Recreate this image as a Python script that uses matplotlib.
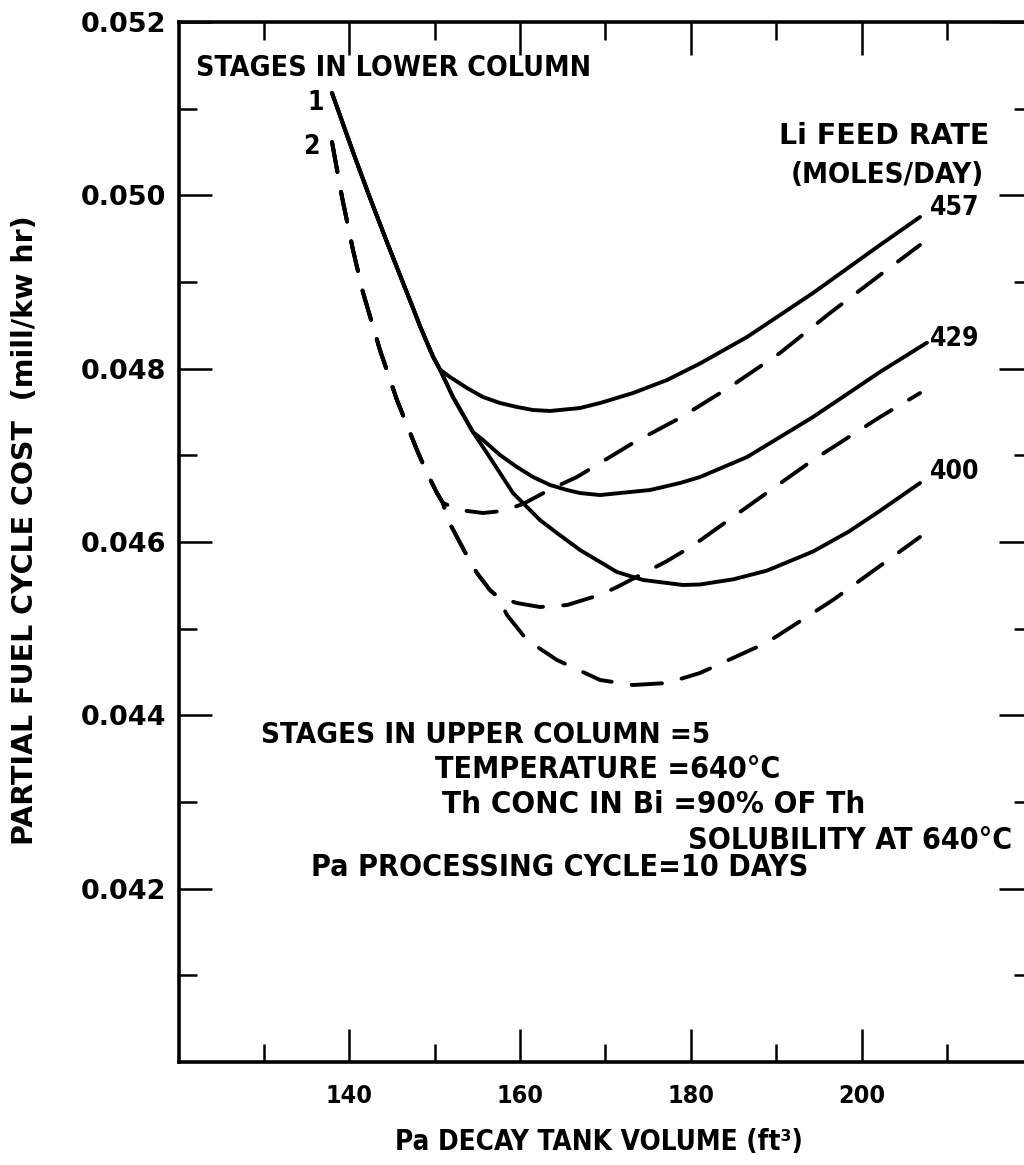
import numpy as np
import matplotlib
matplotlib.use("Agg")
import matplotlib.pyplot as plt

# Pa decay tank volume (ft^3) vs partial fuel cycle cost (mill/kwhr)
# one stage in lower column (solid), Li feed rate 457 / 429 / 400 moles/day
x_top1 = [137.97, 140.43, 142.42, 144.41, 146.29, 147.46, 148.28, 149.80, 150.62]
y_top1 = [0.051181, 0.050500, 0.049970, 0.049460, 0.048990, 0.048700, 0.048490,
          0.048140, 0.047990]

x_s457 = x_top1 + [151.79, 153.78, 155.66, 157.65, 159.64, 161.52, 163.51, 167.02,
                   169.37, 173.23, 177.21, 181.08, 186.58, 194.31, 202.16, 206.85]
y_s457 = y_top1 + [0.047904, 0.047777, 0.047673, 0.047604, 0.047558, 0.047523,
                   0.047512, 0.047546, 0.047604, 0.047719, 0.047869, 0.048060,
                   0.048365, 0.048873, 0.049427, 0.049750]

x_low1 = x_top1 + [152.14, 153.78, 154.48]
y_low1 = y_top1 + [0.047673, 0.047390, 0.047269]

x_s429 = x_low1 + [155.66, 157.65, 159.64, 161.52, 163.51, 165.50, 167.02, 169.37,
                   175.22, 178.74, 181.08, 186.58, 194.31, 202.16, 207.66]
y_s429 = y_low1 + [0.047177, 0.047004, 0.046865, 0.046750, 0.046658, 0.046600,
                   0.046565, 0.046542, 0.046600, 0.046681, 0.046750, 0.046980,
                   0.047442, 0.047962, 0.048300]

x_s400 = x_low1 + [156.12, 157.65, 159.17, 160.81, 162.33, 164.32, 167.02, 171.35,
                   174.40, 179.08, 181.08, 185.00, 188.92, 194.31, 198.50, 202.16,
                   206.85]
y_s400 = y_low1 + [0.047027, 0.046796, 0.046565, 0.046404, 0.046254, 0.046104,
                   0.045908, 0.045654, 0.045562, 0.045504, 0.045510, 0.045570,
                   0.045670, 0.045890, 0.046120, 0.046360, 0.046681]

# two stages in lower column (dashed)
x_top2 = [137.97, 139.14, 140.43, 141.60, 143.59, 145.58, 147.92, 149.09, 150.27, 150.97]
y_top2 = [0.050615, 0.049981, 0.049369, 0.048880, 0.048215, 0.047638, 0.047062,
          0.046796, 0.046565, 0.046450]

x_d457 = x_top2 + [152.95, 155.65, 157.99, 160.34, 163.85, 166.66, 173.22, 178.73,
                   184.58, 190.44, 196.30, 202.15, 206.84]
y_d457 = y_top2 + [0.046369, 0.046335, 0.046358, 0.046439, 0.046623, 0.046750,
                   0.047142, 0.047431, 0.047789, 0.048181, 0.048642, 0.049080,
                   0.049427]

x_low2 = x_top2 + [151.55, 152.61, 153.54, 154.95, 156.47, 157.41]
y_low2 = y_top2 + [0.046254, 0.046058, 0.045885, 0.045642, 0.045446, 0.045365]

x_d429 = x_low2 + [159.64, 162.33, 165.50, 169.37, 171.35, 177.21, 180.26, 186.58,
                   194.31, 202.16, 206.85]
y_d429 = y_low2 + [0.045296, 0.045250, 0.045273, 0.045390, 0.045480, 0.045780,
                   0.045960, 0.046404, 0.046946, 0.047442, 0.047719]

x_d400 = x_low2 + [158.47, 160.81, 164.32, 169.37, 173.23, 177.21, 181.08, 188.92,
                   196.65, 206.84]
y_d400 = y_low2 + [0.045158, 0.044869, 0.044639, 0.044408, 0.044350, 0.044373,
                   0.044489, 0.044840, 0.045331, 0.046058]

feed_rates = ["457", "429", "400"]
x_major = [140, 160, 180, 200]
x_minor = [130, 150, 170, 190, 210]
y_major = [0.042, 0.044, 0.046, 0.048, 0.050, 0.052]
y_minor = [0.041, 0.043, 0.045, 0.047, 0.049, 0.051]
notes = ["STAGES IN UPPER COLUMN =5",
         "TEMPERATURE =640°C",
         "Th CONC IN Bi =90% OF Th",
         "SOLUBILITY AT 640°C",
         "Pa PROCESSING CYCLE=10 DAYS"]

plt.rcParams["font.family"] = ["DejaVu Sans"]
lab = dict(fontweight="bold", fontstretch="condensed", color="black")
wide = dict(fontweight="bold", color="black")

fig = plt.figure(figsize=(10.24, 11.65), dpi=100)
ax = fig.add_axes([0.1744, 0.0884, 0.8337, 0.8927])

lw = 2.8
dash = (0, (7.8, 5.2))
for xs, ys in [(x_s457, y_s457), (x_s429, y_s429), (x_s400, y_s400)]:
    ax.plot(xs, ys, color="black", lw=lw, solid_capstyle="round", solid_joinstyle="round")
for xs, ys in [(x_d457, y_d457), (x_d429, y_d429), (x_d400, y_d400)]:
    ax.plot(xs, ys, color="black", lw=lw, linestyle=dash, dash_capstyle="round",
            dash_joinstyle="round")

ax.set_xlim(120, 220)
ax.set_ylim(0.040, 0.052)
ax.set_xticks(x_major)
ax.set_xticks(x_minor, minor=True)
ax.set_yticks(y_major)
ax.set_yticks(y_minor, minor=True)
ax.set_xticklabels([str(v) for v in x_major], fontsize=18, **lab)
ax.set_yticklabels([f"{v:.3f}" for v in y_major], fontsize=19.5, **wide)
ax.tick_params(which="both", direction="in", top=True, right=True, width=1.8)
ax.tick_params(which="major", length=24)
ax.tick_params(which="minor", length=13)
ax.tick_params(axis="x", pad=16)
ax.tick_params(axis="y", pad=9)
for sp in ax.spines.values():
    sp.set_linewidth(2.6)

ax.set_xlabel("Pa DECAY TANK VOLUME (ft³)", fontsize=20, **lab)
ax.xaxis.set_label_coords(0.492, -0.063)
ax.set_ylabel("PARTIAL FUEL CYCLE COST  (mill/kw hr)", fontsize=20.5, **wide)
ax.yaxis.set_label_coords(-0.163, 0.5115)

ax.text(122.0, 0.05147, "STAGES IN LOWER COLUMN", fontsize=20.5, ha="left", va="center", **lab)
ax.text(136.0, 0.05107, "1", fontsize=19, ha="center", va="center", **lab)
ax.text(135.6, 0.05056, "2", fontsize=19, ha="center", va="center", **lab)
ax.text(215.0, 0.05068, "Li FEED RATE", fontsize=20.5, ha="right", va="center", **wide)
ax.text(214.4, 0.05023, "(MOLES/DAY)", fontsize=21, ha="right", va="center", **lab)
for name, yy in zip(feed_rates, [0.04985, 0.04834, 0.04681]):
    ax.text(208.0, yy, name, fontsize=19, ha="left", va="center", **lab)

note_pos = [(129.6, 0.04377), (150.0, 0.04337), (150.8, 0.04297),
            (179.7, 0.04256), (135.5, 0.04224)]
note_size = [21.2, 21.8, 22.4, 21.8, 21.8]
for (tx, ty), s, fs in zip(note_pos, notes, note_size):
    ax.text(tx, ty, s, fontsize=fs, ha="left", va="center", **lab)

fig.savefig("out.png", dpi=100)
